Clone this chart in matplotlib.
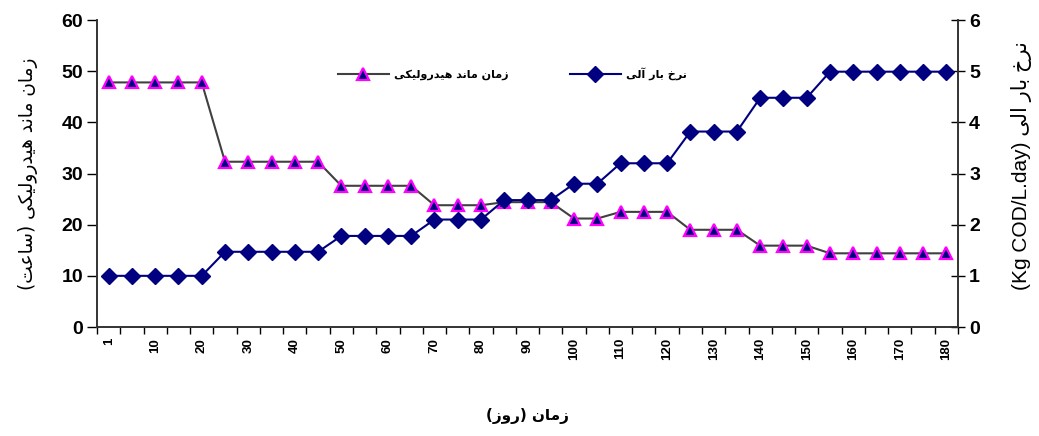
import matplotlib
matplotlib.use("Agg")
import matplotlib.pyplot as plt
import numpy as np

# ---------------- data ----------------
days = [1, 5, 10, 15, 20, 25, 30, 35, 40, 45, 50, 55, 60, 65, 70, 75, 80, 85, 90,
        95, 100, 105, 110, 115, 120, 125, 130, 135, 140, 145, 150, 155, 160, 165,
        170, 175, 180]
hrt = [47.8, 47.8, 47.8, 47.8, 47.8,
       32.3, 32.3, 32.3, 32.3, 32.3,
       27.6, 27.6, 27.6, 27.6,
       23.8, 23.8, 23.8,
       24.4, 24.4, 24.4,
       21.2, 21.2,
       22.5, 22.5, 22.5,
       19.0, 19.0, 19.0,
       15.9, 15.9, 15.9,
       14.4, 14.4, 14.4, 14.4, 14.4, 14.4]
olr = [1.0, 1.0, 1.0, 1.0, 1.0,
       1.47, 1.47, 1.47, 1.47, 1.47,
       1.78, 1.78, 1.78, 1.78,
       2.1, 2.1, 2.1,
       2.48, 2.48, 2.48,
       2.8, 2.8,
       3.2, 3.2, 3.2,
       3.82, 3.82, 3.82,
       4.48, 4.48, 4.48,
       4.99, 4.99, 4.99, 4.99, 4.99, 4.99]
tick_days = [1, 10, 20, 30, 40, 50, 60, 70, 80, 90, 100, 110, 120, 130, 140,
             150, 160, 170, 180]
left_ticks = [0, 10, 20, 30, 40, 50, 60]
right_ticks = [0, 1, 2, 3, 4, 5, 6]

label_hrt = "زمان ماند هیدرولیکی"
label_olr = "نرخ بار آلی"
ylabel_left_fa = "زمان ماند هیدرولیکی"
ylabel_left_unit = "ساعت"
ylabel_right_fa = "نرخ بار الی"
ylabel_right_unit = "(Kg COD/L.day)"
xlabel_fa = "زمان"
xlabel_unit = "روز"

# ---------------- simple Persian shaping (presentation forms) ----------------
FORMS = {  # isol, fina, init, medi
    'ا': ('\uFE8D', '\uFE8E', None, None),
    'آ': ('\uFE81', '\uFE82', None, None),
    'ب': ('\uFE8F', '\uFE90', '\uFE91', '\uFE92'),
    'ت': ('\uFE95', '\uFE96', '\uFE97', '\uFE98'),
    'خ': ('\uFEA5', '\uFEA6', '\uFEA7', '\uFEA8'),
    'د': ('\uFEA9', '\uFEAA', None, None),
    'ر': ('\uFEAD', '\uFEAE', None, None),
    'ز': ('\uFEAF', '\uFEB0', None, None),
    'س': ('\uFEB1', '\uFEB2', '\uFEB3', '\uFEB4'),
    'ع': ('\uFEC9', '\uFECA', '\uFECB', '\uFECC'),
    'ل': ('\uFEDD', '\uFEDE', '\uFEDF', '\uFEE0'),
    'م': ('\uFEE1', '\uFEE2', '\uFEE3', '\uFEE4'),
    'ن': ('\uFEE5', '\uFEE6', '\uFEE7', '\uFEE8'),
    'ه': ('\uFEE9', '\uFEEA', '\uFEEB', '\uFEEC'),
    'و': ('\uFEED', '\uFEEE', None, None),
    'ی': ('\uFBFC', '\uFBFD', '\uFBFE', '\uFBFF'),
    'ک': ('\uFB8E', '\uFB8F', '\uFB90', '\uFB91'),
}


def rtl(s):
    out = []
    n = len(s)
    for i, c in enumerate(s):
        if c not in FORMS:
            out.append(c)
            continue
        f = FORMS[c]
        prev = s[i - 1] if i > 0 else None
        nxt = s[i + 1] if i + 1 < n else None
        pj = prev in FORMS and FORMS[prev][2] is not None
        nj = f[2] is not None and nxt in FORMS
        if pj and nj:
            out.append(f[3])
        elif pj:
            out.append(f[1])
        elif nj:
            out.append(f[2])
        else:
            out.append(f[0])
    return ''.join(reversed(out))


FA_FONT = ['DejaVu Sans']
MIX_FONT = ['Liberation Sans', 'DejaVu Sans']
NUM_FONT = 'Liberation Sans'

# ---------------- figure ----------------
fig = plt.figure(figsize=(10.39, 4.36), dpi=100)
ax = fig.add_axes([97 / 1039, 1 - 327 / 436, (958 - 97) / 1039, (327 - 20) / 436])
ax2 = ax.twinx()

x = np.arange(len(days))
l1, = ax.plot(x, hrt, color='#404040', lw=1.5, marker='^', markersize=9,
              markerfacecolor='#000080', markeredgecolor='#FF00FF',
              markeredgewidth=1.6, label=rtl(label_hrt))
l2, = ax2.plot(x, olr, color='#000080', lw=1.5, marker='D', markersize=8.5,
               markerfacecolor='#000080', markeredgecolor='#000080',
               label=rtl(label_olr))

ax.set_xlim(-0.5, len(days) - 0.5)
ax.set_ylim(0, 60)
ax2.set_ylim(0, 6)
ax.set_yticks(left_ticks)
ax2.set_yticks(right_ticks)
ax.set_yticklabels([str(v) for v in left_ticks], fontsize=14, fontweight='bold',
                   family=NUM_FONT)
ax2.set_yticklabels([str(v) for v in right_ticks], fontsize=14, fontweight='bold',
                    family=NUM_FONT)

# x ticks at category boundaries, labels at category centres
ax.set_xticks(np.arange(len(days) + 1) - 0.5)
ax.set_xticklabels([])
ax.set_xticks([days.index(d) for d in tick_days], minor=True)
ax.set_xticklabels([str(d) for d in tick_days], minor=True, rotation=90,
                   fontsize=9.5, fontweight='bold', family=NUM_FONT)
ax.tick_params(axis='x', which='major', direction='out', length=5, width=1)
ax.tick_params(axis='x', which='minor', length=0, pad=8)
ax.tick_params(axis='y', direction='out', length=7, width=1, pad=3)
ax2.tick_params(axis='y', direction='inout', length=10, width=1, pad=3)

for a in (ax, ax2):
    a.spines['top'].set_visible(False)
    for sp in ('left', 'right', 'bottom'):
        a.spines[sp].set_linewidth(1.2)
        a.spines[sp].set_color('#333333')

# axis labels (right-to-left paragraphs)
ax.set_ylabel('(' + rtl(ylabel_left_unit) + ') ' + rtl(ylabel_left_fa),
              fontsize=13.4, family=FA_FONT, labelpad=17)
ax2.set_ylabel(ylabel_right_unit + ' ' + rtl(ylabel_right_fa),
               fontsize=15, family=MIX_FONT)
ax2.yaxis.set_label_coords(1.0615, 0.525)
ax.set_xlabel('(' + rtl(xlabel_unit) + ') ' + rtl(xlabel_fa), fontsize=11,
              fontweight='bold', family=FA_FONT, labelpad=34)

leg = ax2.legend(handles=[l1, l2], ncol=2, frameon=False, loc='center left',
                 bbox_to_anchor=(0.268, 0.825),
                 prop={'family': FA_FONT, 'size': 8, 'weight': 'bold'},
                 handlelength=4.6, columnspacing=5.5, handletextpad=0.45,
                 markerscale=0.95)

fig.savefig('out.png', dpi=100)
